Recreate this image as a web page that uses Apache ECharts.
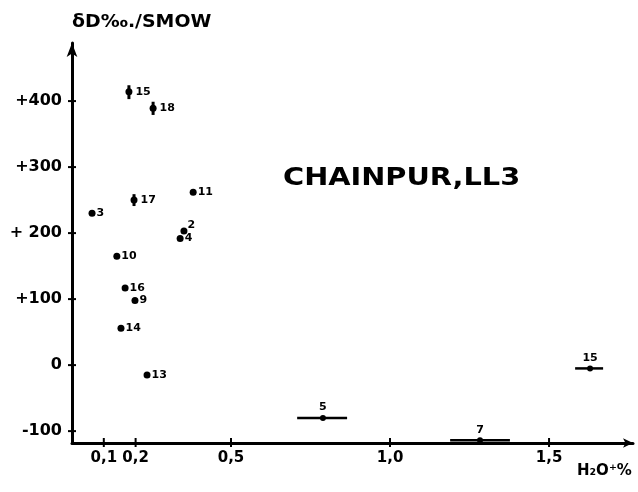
<!DOCTYPE html>
<html>
<head>
<meta charset="utf-8">
<script src="https://cdn.jsdelivr.net/npm/echarts@6/dist/echarts.min.js"></script>
<style>
	body { margin: 0; background: #fff; }
	#chart { width: 638px; height: 492px; }
</style>
</head>
<body>
<div id="chart"></div>
<script>
	// Chainpur LL3 : deuterium vs H2O+
	var sampleIds = ['15', '18', '17', '3', '11', '2', '4', '10', '16', '9', '14', '13'];
	var h2o = [0.179, 0.255, 0.195, 0.063, 0.381, 0.352, 0.340, 0.141, 0.167, 0.198, 0.154, 0.236];
	var deltaD = [414, 389, 250, 230, 262, 203, 192, 165, 117, 98, 56, -15];

	// samples with a vertical error bar (delta D range)
	var vbarIds = ['15', '18', '17'];
	var vbarH2o = [0.179, 0.255, 0.195];
	var vbarLow = [403, 379, 241];
	var vbarHigh = [424, 399, 259];

	// samples with a horizontal error bar (H2O range)
	var hbarIds = ['5', '7', '15'];
	var hbarH2o = [0.789, 1.283, 1.629];
	var hbarDeltaD = [-80, -114, -5];
	var hbarLow = [0.708, 1.189, 1.582];
	var hbarHigh = [0.865, 1.377, 1.670];

	var xTicks = [0.1, 0.2, 0.5, 1.0, 1.5];
	var xTickLabels = ['0,1', '0,2', '0,5', '1,0', '1,5'];
	var yTicks = [-100, 0, 100, 200, 300, 400];
	var yTickLabels = ['-100', '0', '+100', '+ 200', '+300', '+400'];

	var X_MIN = 0, X_MAX = 1.764, Y_MIN = -118, Y_MAX = 488;
	var FONT = 'DejaVu Sans';

	var myChart = echarts.init(document.getElementById('chart'));

	var points = sampleIds.map(function (id, i) {
		var item = { value: [h2o[i], deltaD[i]], name: id };
		if (id === '2') {
			item.label = { position: 'right', offset: [-1, -6] };
		}
		if (vbarIds.indexOf(id) >= 0) {
			item.label = { position: 'right', distance: 3 };
		}
		return item;
	});

	var hPoints = hbarIds.map(function (id, i) {
		return { value: [hbarH2o[i], hbarDeltaD[i]], name: id };
	});

	myChart.setOption({
		backgroundColor: '#fff',
		animation: false,
		grid: { left: 72, top: 43, width: 561, height: 400 },
		xAxis: {
			type: 'value', min: X_MIN, max: X_MAX,
			splitLine: { show: false },
			axisTick: { show: false },
			axisLabel: { show: false },
			axisLine: {
				onZero: false,
				symbol: ['none', 'arrow'], symbolSize: [7, 10],
				lineStyle: { color: '#000', width: 3 }
			}
		},
		yAxis: {
			type: 'value', min: Y_MIN, max: Y_MAX,
			splitLine: { show: false },
			axisTick: { show: false },
			axisLabel: { show: false },
			axisLine: {
				onZero: false,
				symbol: ['none', 'arrow'], symbolSize: [8, 14],
				lineStyle: { color: '#000', width: 3 }
			}
		},
		series: [
			{
				// x ticks and labels
				type: 'custom', clip: false, silent: true,
				data: xTicks.map(function (v, i) { return [v, Y_MIN, i]; }),
				renderItem: function (params, api) {
					var p = api.coord([api.value(0), api.value(1)]);
					return {
						type: 'group', children: [
							{ type: 'line', shape: { x1: p[0], y1: p[1] - 5, x2: p[0], y2: p[1] + 4 }, style: { stroke: '#000', lineWidth: 2 } },
							{ type: 'text', x: p[0], y: p[1] + 8, style: { text: xTickLabels[api.value(2)], font: 'bold 15px ' + FONT, fill: '#000', align: 'center', verticalAlign: 'top' } }
						]
					};
				}
			},
			{
				// y ticks and labels
				type: 'custom', clip: false, silent: true,
				data: yTicks.map(function (v, i) { return [X_MIN, v, i]; }),
				renderItem: function (params, api) {
					var p = api.coord([api.value(0), api.value(1)]);
					return {
						type: 'group', children: [
							{ type: 'line', shape: { x1: p[0] - 4, y1: p[1], x2: p[0] + 4, y2: p[1] }, style: { stroke: '#000', lineWidth: 2 } },
							{ type: 'text', x: p[0] - 10, y: p[1], style: { text: yTickLabels[api.value(2)], font: 'bold 16px ' + FONT, fill: '#000', align: 'right', verticalAlign: 'middle' } }
						]
					};
				}
			},
			{
				// vertical error bars
				type: 'custom', clip: false, silent: true,
				data: vbarIds.map(function (id, i) { return [vbarH2o[i], vbarLow[i], vbarHigh[i]]; }),
				renderItem: function (params, api) {
					var a = api.coord([api.value(0), api.value(1)]);
					var b = api.coord([api.value(0), api.value(2)]);
					return { type: 'line', shape: { x1: a[0], y1: a[1], x2: b[0], y2: b[1] }, style: { stroke: '#000', lineWidth: 3 } };
				}
			},
			{
				// horizontal error bars
				type: 'custom', clip: false, silent: true,
				data: hbarIds.map(function (id, i) { return [hbarLow[i], hbarHigh[i], hbarDeltaD[i]]; }),
				renderItem: function (params, api) {
					var a = api.coord([api.value(0), api.value(2)]);
					var b = api.coord([api.value(1), api.value(2)]);
					return { type: 'line', shape: { x1: a[0], y1: a[1], x2: b[0], y2: b[1] }, style: { stroke: '#000', lineWidth: 2.5 } };
				}
			},
			{
				type: 'scatter', symbolSize: 7, silent: true,
				itemStyle: { color: '#000', opacity: 1 },
				label: { show: true, position: 'right', distance: 1, formatter: '{b}', color: '#000', fontFamily: FONT, fontWeight: 'bold', fontSize: 11 },
				data: points
			},
			{
				type: 'scatter', symbolSize: 6, silent: true,
				itemStyle: { color: '#000', opacity: 1 },
				label: { show: true, position: 'top', distance: 2, formatter: '{b}', color: '#000', fontFamily: FONT, fontWeight: 'bold', fontSize: 11 },
				data: hPoints
			}
		],
		graphic: [
			{ type: 'text', left: 72, top: 13, scaleX: 1.05, style: { text: 'δD‰./SMOW', font: 'bold 18px ' + FONT, fill: '#000' } },
			{ type: 'text', left: 283, top: 167, scaleX: 1.2, style: { text: 'CHAINPUR,LL3', font: 'bold 24px ' + FONT, fill: '#000' } },
			{ type: 'text', left: 577, top: 464, style: { text: 'H₂O⁺%', font: 'bold 15px ' + FONT, fill: '#000' } }
		]
	});
</script>
</body>
</html>
